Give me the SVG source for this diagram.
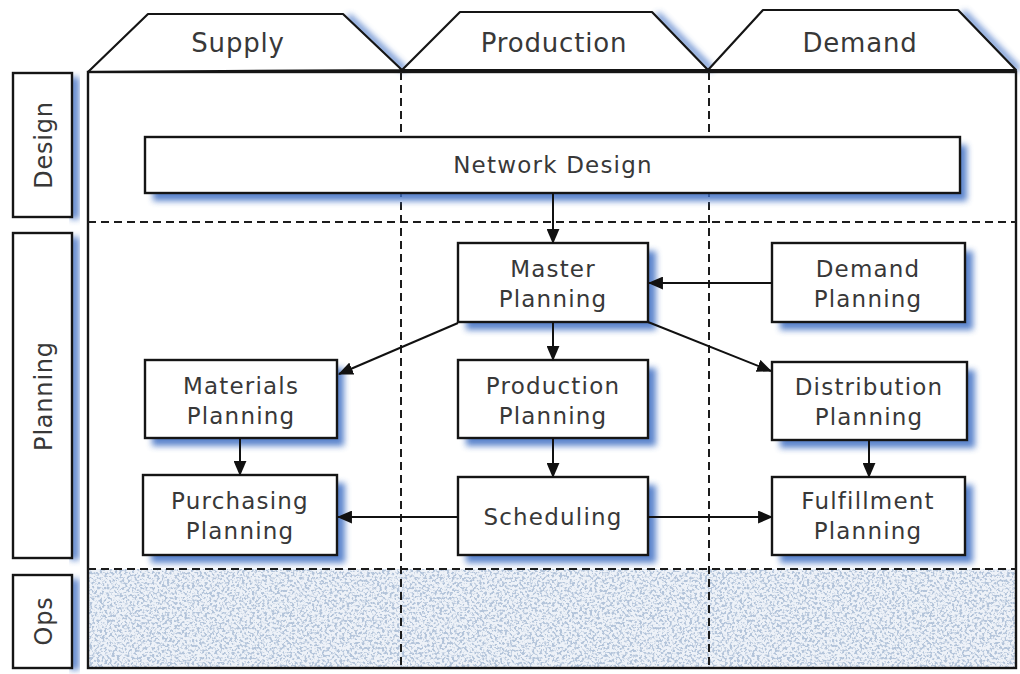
<svg xmlns="http://www.w3.org/2000/svg" width="1020" height="674" viewBox="0 0 1020 674">
<defs>
  <style>
    .lbl{font-family:"DejaVu Sans","Liberation Sans",sans-serif;fill:#383838;text-anchor:middle;}
    .node{font-size:23px;letter-spacing:1.2px;}
    .tab{font-size:26px;letter-spacing:0.8px;}
    .row{font-size:24px;letter-spacing:0.8px;}
    .box{fill:#fff;stroke:#151515;stroke-width:2.4;}
    .shd{fill:#3f6fc4;opacity:0.85;filter:url(#blur);}
    .dash{stroke:#1c1c1c;stroke-width:2;stroke-dasharray:8 5;fill:none;}
    .edge{stroke:#111;stroke-width:2;fill:none;marker-end:url(#ah);}
  </style>
  <filter id="blur" x="-10%" y="-20%" width="120%" height="140%">
    <feGaussianBlur stdDeviation="3.2"/>
  </filter>
  <filter id="speck" x="0" y="0" width="1" height="1">
    <feTurbulence type="fractalNoise" baseFrequency="0.4" numOctaves="2" seed="7" result="n"/>
    <feColorMatrix in="n" type="matrix" values="0 0 0 0 0.45  0 0 0 0 0.55  0 0 0 0 0.70  6 0 0 0 -2.85"/>
  </filter>
  <marker id="ah" viewBox="0 0 14 12" refX="13" refY="6" markerWidth="15" markerHeight="13" markerUnits="userSpaceOnUse" orient="auto">
    <path d="M0,0 L14,6 L0,12 z" fill="#111"/>
  </marker>
</defs>

<rect x="0" y="0" width="1020" height="674" fill="#fff"/>

<!-- column header tabs -->
<g id="tab-supply">
  <line x1="348" y1="16" x2="405" y2="70" stroke="#3f6fc4" stroke-width="6" opacity="0.8" filter="url(#blur)"/>
  <polygon points="88,72 148,14 343,14 402,70" fill="#fff" stroke="#151515" stroke-width="2.2" stroke-linejoin="round"/>
  <text class="lbl tab" x="238" y="52">Supply</text>
</g>
<g id="tab-production">
  <line x1="657" y1="14" x2="712" y2="70" stroke="#3f6fc4" stroke-width="6" opacity="0.8" filter="url(#blur)"/>
  <polygon points="402,70 460,12 652,12 708,70" fill="#fff" stroke="#151515" stroke-width="2.2" stroke-linejoin="round"/>
  <text class="lbl tab" x="554" y="52">Production</text>
</g>
<g id="tab-demand">
  <line x1="963" y1="12" x2="1019" y2="70" stroke="#3f6fc4" stroke-width="6" opacity="0.8" filter="url(#blur)"/>
  <polygon points="708,70 763,10 958,10 1016,70" fill="#fff" stroke="#151515" stroke-width="2.2" stroke-linejoin="round"/>
  <text class="lbl tab" x="860" y="52">Demand</text>
</g>

<!-- row labels -->
<g id="row-design">
  <rect class="shd" x="70" y="77" width="9" height="142"/>
  <rect class="box" x="13" y="73" width="59" height="144"/>
  <text class="lbl row" x="52" y="145" transform="rotate(-90 52 145)">Design</text>
</g>
<g id="row-planning">
  <rect class="shd" x="70" y="237" width="9" height="323"/>
  <rect class="box" x="13" y="233" width="59" height="325"/>
  <text class="lbl row" x="52" y="396" transform="rotate(-90 52 396)">Planning</text>
</g>
<g id="row-ops">
  <rect class="shd" x="70" y="579" width="9" height="91"/>
  <rect class="box" x="13" y="575" width="59" height="93"/>
  <text class="lbl row" x="52" y="621" transform="rotate(-90 52 621)">Ops</text>
</g>

<!-- main frame -->
<g id="frame">
  <rect x="88" y="569" width="928" height="99" fill="#eef2f8"/>
  <rect x="88" y="569" width="928" height="99" filter="url(#speck)"/>
  <rect x="88" y="72" width="928" height="596" fill="none" stroke="#151515" stroke-width="2.4"/>
  <line class="dash" x1="88" y1="222" x2="1016" y2="222"/>
  <line class="dash" x1="88" y1="569" x2="1016" y2="569"/>
  <line class="dash" x1="401" y1="72" x2="401" y2="668"/>
  <line class="dash" x1="709" y1="72" x2="709" y2="668"/>
</g>

<!-- nodes -->
<g id="network-design">
  <rect class="shd" x="153" y="145" width="814" height="56"/>
  <rect class="box" x="145" y="137" width="815" height="56"/>
  <text class="lbl node" x="553" y="173">Network Design</text>
</g>
<g id="master-planning">
  <rect class="shd" x="466" y="251" width="190" height="79"/>
  <rect class="box" x="458" y="243" width="190" height="79"/>
  <text class="lbl node" x="553" y="277">Master</text>
  <text class="lbl node" x="553" y="307">Planning</text>
</g>
<g id="demand-planning">
  <rect class="shd" x="780" y="251" width="193" height="79"/>
  <rect class="box" x="772" y="243" width="193" height="79"/>
  <text class="lbl node" x="868" y="277">Demand</text>
  <text class="lbl node" x="868" y="307">Planning</text>
</g>
<g id="materials-planning">
  <rect class="shd" x="152" y="368" width="192" height="78"/>
  <rect class="box" x="145" y="360" width="192" height="78"/>
  <text class="lbl node" x="241" y="394">Materials</text>
  <text class="lbl node" x="241" y="424">Planning</text>
</g>
<g id="production-planning">
  <rect class="shd" x="466" y="368" width="190" height="78"/>
  <rect class="box" x="458" y="360" width="190" height="78"/>
  <text class="lbl node" x="553" y="394">Production</text>
  <text class="lbl node" x="553" y="424">Planning</text>
</g>
<g id="distribution-planning">
  <rect class="shd" x="780" y="370" width="195" height="78"/>
  <rect class="box" x="772" y="362" width="195" height="78"/>
  <text class="lbl node" x="869" y="395">Distribution</text>
  <text class="lbl node" x="869" y="425">Planning</text>
</g>
<g id="purchasing-planning">
  <rect class="shd" x="151" y="483" width="194" height="80"/>
  <rect class="box" x="143" y="475" width="194" height="80"/>
  <text class="lbl node" x="240" y="509">Purchasing</text>
  <text class="lbl node" x="240" y="539">Planning</text>
</g>
<g id="scheduling">
  <rect class="shd" x="466" y="485" width="190" height="78"/>
  <rect class="box" x="458" y="477" width="190" height="78"/>
  <text class="lbl node" x="553" y="525">Scheduling</text>
</g>
<g id="fulfillment-planning">
  <rect class="shd" x="780" y="485" width="193" height="78"/>
  <rect class="box" x="772" y="477" width="193" height="78"/>
  <text class="lbl node" x="868" y="509">Fulfillment</text>
  <text class="lbl node" x="868" y="539">Planning</text>
</g>

<!-- connectors -->
<g id="connectors">
  <line class="edge" x1="553" y1="193" x2="553" y2="243"/>
  <line class="edge" x1="772" y1="283" x2="649" y2="283"/>
  <line class="edge" x1="458" y1="323" x2="339" y2="374"/>
  <line class="edge" x1="553" y1="322" x2="553" y2="360"/>
  <line class="edge" x1="648" y1="322" x2="771" y2="371"/>
  <line class="edge" x1="240" y1="438" x2="240" y2="475"/>
  <line class="edge" x1="553" y1="438" x2="553" y2="477"/>
  <line class="edge" x1="869" y1="440" x2="869" y2="477"/>
  <line class="edge" x1="458" y1="517" x2="338" y2="517"/>
  <line class="edge" x1="648" y1="517" x2="772" y2="517"/>
</g>
</svg>
